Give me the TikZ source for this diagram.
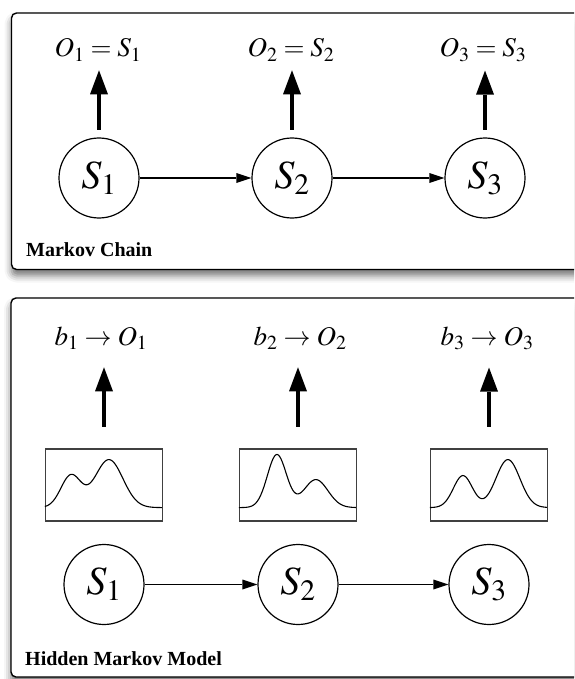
\documentclass[tikz,border=0pt]{standalone}
\usepackage{mathptmx}
\usepackage{fontspec}
\setmainfont{Liberation Serif}
\usetikzlibrary{arrows.meta,shadows.blur}

\begin{document}
\begin{tikzpicture}[x=1pt,y=-1pt,
    panel/.style={draw=black, line width=1.4pt, rounded corners=5pt, fill=white,
      blur shadow={shadow xshift=0pt, shadow yshift=-6pt, shadow blur radius=7pt, shadow opacity=55}},
    stn/.style={circle, draw, line width=1.2pt, minimum size=80pt, inner sep=0pt, font=\fontsize{40}{44}\selectfont},
    lab/.style={inner sep=0pt, anchor=base, font=\fontsize{27}{30}\selectfont},
    ttl/.style={inner sep=0pt, anchor=base west, font=\fontsize{20}{24}\selectfont\bfseries},
    trans/.style={-{Triangle[length=15pt,width=10pt,fill=black,line width=0pt]}, line width=1.2pt},
    emit/.style={-{Triangle[length=24pt,width=18pt,fill=black,line width=0pt]}, line width=3.7pt},
    dens/.style={draw=black!75, line width=1.2pt, minimum width=117pt, minimum height=72pt, inner sep=0pt},
    crv/.style={line width=1.1pt, smooth},
    declare function={g(\x,\m,\s,\a)=\a*exp(-((\x-\m)/\s)^2/2);}
  ]
    \clip (0,0) rectangle (574,679);
    \path[panel] (11.5,13) rectangle (620,269.5);
    \path[panel] (11,298) rectangle (620,677);

    % Markov chain
    \node[stn] (s1) at (99,178) {$S_1$};
    \node[stn] (s2) at (292,178) {$S_2$};
    \node[stn] (s3) at (485,178) {$S_3$};
    \node[lab] (o1) at (98,57) {$O_1 = S_1$};
    \node[lab] (o2) at (291,57) {$O_2 = S_2$};
    \node[lab] (o3) at (483,57) {$O_3 = S_3$};
    \draw[trans] (s1)--(s2); \draw[trans] (s2)--(s3);
    \draw[emit, shorten <=7.5pt, shorten >=9pt] (s1)--(s1|-o1.south);
    \draw[emit, shorten <=7.5pt, shorten >=9pt] (s2)--(s2|-o2.south);
    \draw[emit, shorten <=7.5pt, shorten >=9pt] (s3)--(s3|-o3.south);
    \node[ttl] (t1) at (26,256.5) {Markov Chain};

    % hidden Markov model
    \node[stn] (h1) at (104,584.5) {$S_1$};
    \node[stn] (h2) at (298,584.5) {$S_2$};
    \node[stn] (h3) at (489,584.5) {$S_3$};
    \node[dens] (d1) at (104,485) {};
    \node[dens] (d2) at (298,485) {};
    \node[dens] (d3) at (489,485) {};
    \node[lab] (b1) at (101,345) {$b_1 \rightarrow O_1$};
    \node[lab] (b2) at (300,345) {$b_2 \rightarrow O_2$};
    \node[lab] (b3) at (487,345) {$b_3 \rightarrow O_3$};
    \draw[trans] (h1)--(h2); \draw[trans] (h2)--(h3);
    \draw[emit, shorten <=21.5pt, shorten >=18pt] (d1)--(d1|-b1.south);
    \draw[emit, shorten <=21.5pt, shorten >=18pt] (d2)--(d2|-b2.south);
    \draw[emit, shorten <=21.5pt, shorten >=18pt] (d3)--(d3|-b3.south);
    \begin{scope}[shift={(d1.south west)}]
      \draw[crv] plot[domain=0:117, samples=90] (\x,{-14-g(\x,26,10,32)-g(\x,64,14,48)});
    \end{scope}
    \begin{scope}[shift={(d2.south west)}]
      \draw[crv] plot[domain=0:117, samples=90] (\x,{-14-g(\x,38,9.5,53)-g(\x,77,12,28)});
    \end{scope}
    \begin{scope}[shift={(d3.south west)}]
      \draw[crv] plot[domain=0:117, samples=90] (\x,{-14-g(\x,33,9.5,32)-g(\x,78,12,48)});
    \end{scope}
    \node[ttl] (t2) at (25,665.5) {Hidden Markov Model};
\end{tikzpicture}
\end{document}
